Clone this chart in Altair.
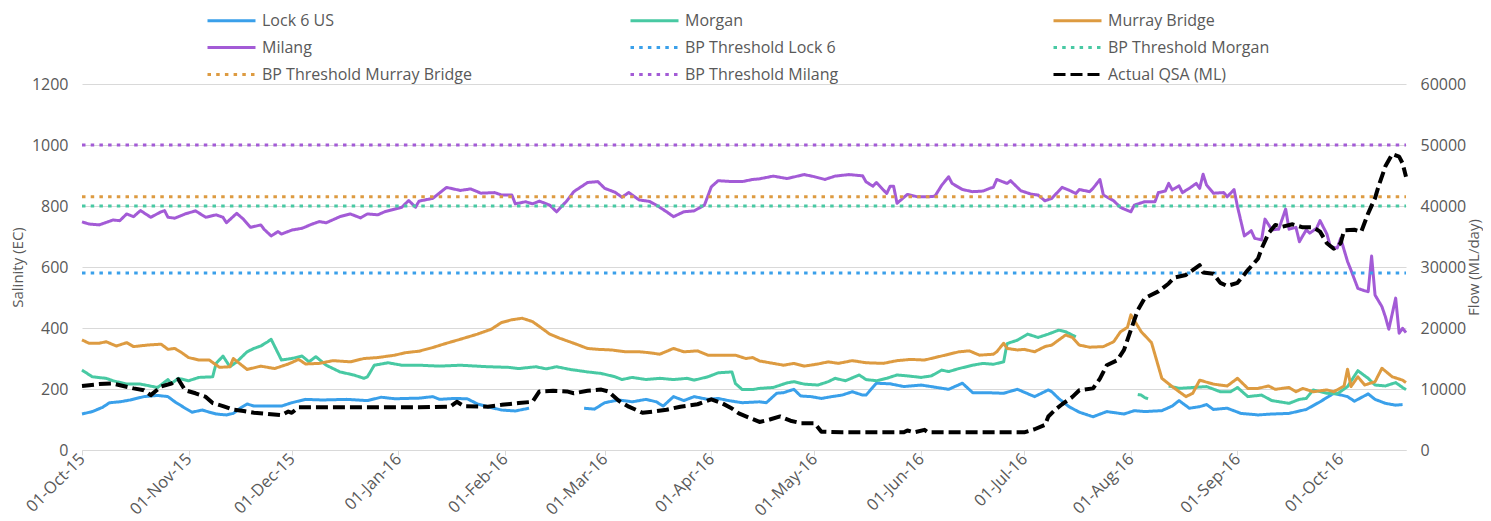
import altair as alt
import pandas as pd

START = "2015-10-01"  # day 0

# ---- data (day offset from 01-Oct-15, value) ----
# None marks a gap in the record
lock6_days = [0, 3, 6, 8, 11, 14, 18, 22, 25, 27, 30, 32, 35, 37, 39, 42, 44, 46, 48, 50, 53, 58, 61, 65, 70, 77,
              83, 87, 91, 94, 98, 102, 104, 108, 112, 115, 118, 122, 126, 130, 138,
              146, 149, 152, 156, 160, 164, 167, 169, 172, 175, 178, 182, 185, 188, 192, 197, 199, 202, 204, 207,
              209, 212, 215, 218, 221, 224, 227, 228, 231, 235, 239, 244, 248, 252, 256, 259, 263, 268, 272, 277,
              281, 282, 284, 287, 290, 294, 298, 303, 306, 309, 314, 317, 319, 322, 325, 327, 329, 333, 337, 342,
              346, 351, 356, 360, 364, 368, 370, 374, 376, 379, 382, 384]
lock6_vals = [118, 126, 140, 155, 158, 164, 175, 179, 175, 158, 137, 124, 131, 124, 118, 115, 120, 137, 151, 144, 144,
              144, 155, 166, 164, 166, 162, 173, 168, 169, 170, 175, 166, 169, 168, 151, 142, 131, 128, 137, None,
              137, 134, 155, 164, 158, 166, 158, 144, 175, 162, 175, 166, 169, 162, 155, 158, 155, 186, 188, 199,
              177, 175, 169, 175, 180, 191, 180, 180, 219, 217, 208, 213, 206, 199, 219, 188, 188, 186, 199, 175,
              197, 191, 169, 142, 124, 109, 126, 118, 129, 126, 129, 144, 162, 137, 142, 149, 133, 137, 120, 115,
              118, 120, 133, 158, 186, 175, 160, 184, 166, 153, 147, 149]

morgan_days = [0, 3, 7, 9, 13, 17, 22, 25, 26, 28, 31, 34, 38, 39, 41, 43, 45, 48, 50, 52, 54, 55, 58, 61, 64, 66,
               68, 71, 75, 79, 82, 83, 85, 89, 93, 98, 104, 110, 118, 124, 127, 132, 135, 138, 142, 147, 151, 155,
               157, 160, 164, 168, 172, 176, 178, 182, 185, 189, 190, 192, 195, 197, 201, 205, 207, 210, 214, 217,
               219, 222, 226, 228, 231, 234, 237, 240, 244, 247, 250, 252, 255, 259, 262, 265, 268, 269, 272, 275,
               278, 281, 284, 286, 289, 298,
               307, 308, 309, 310, 313,
               316, 319, 323, 327, 331, 334, 336, 339, 343, 346, 351, 354, 356, 358, 362, 365, 368, 371, 374, 376,
               379, 382, 384, 385]
morgan_vals = [262, 240, 235, 227, 216, 216, 205, 231, 218, 235, 227, 238, 240, 284, 308, 273, 289, 322, 333, 341,
               355, 363, 295, 300, 308, 289, 306, 278, 256, 246, 235, 240, 278, 286, 278, 278, 275, 278, 273, 271,
               267, 273, 266, 273, 264, 256, 251, 240, 231, 238, 231, 235, 231, 235, 229, 240, 253, 256, 218, 198,
               198, 202, 205, 220, 224, 216, 213, 224, 235, 227, 246, 231, 227, 235, 246, 243, 238, 243, 262, 257,
               267, 278, 284, 281, 289, 349, 360, 380, 369, 380, 393, 388, 371, None,
               182, 180, 172, 168, None,
               210, 202, 205, 208, 191, 191, 205, 175, 180, 162, 153, 166, 169, 197, 186, 184, 208, 260, 235, 213,
               210, 221, 205, 198]

murray_days = [0, 2, 5, 7, 10, 13, 15, 19, 23, 25, 27, 29, 31, 34, 37, 40, 43, 44, 46, 48, 52, 56, 60, 63, 65, 69,
               73, 78, 82, 86, 91, 94, 98, 102, 106, 110, 115, 119, 122, 125, 128, 131, 133, 136, 139, 143, 147,
               150, 154, 158, 162, 165, 168, 172, 175, 179, 182, 186, 190, 193, 195, 197, 201, 204, 207, 210, 214,
               217, 220, 224, 228, 233, 237, 241, 245, 248, 251, 255, 258, 261, 265, 266, 268, 269, 272, 274, 277,
               280, 282, 286, 288, 290, 293, 297, 300, 302, 304, 305, 308, 311, 314, 317, 321, 323, 325, 329, 333,
               336, 339, 342, 345, 347, 351, 353, 355, 358, 362, 364, 367, 368, 369, 371, 373, 376, 378, 381, 384,
               385]
murray_vals = [361, 350, 350, 355, 341, 352, 339, 344, 347, 330, 333, 319, 303, 295, 295, 271, 273, 300, 282, 264,
               275, 267, 282, 297, 282, 284, 293, 289, 300, 303, 311, 319, 324, 336, 350, 363, 380, 396, 418, 427,
               432, 421, 405, 380, 366, 350, 333, 330, 328, 322, 322, 319, 314, 333, 322, 325, 311, 311, 311, 300,
               303, 292, 284, 278, 284, 275, 282, 289, 284, 293, 286, 284, 293, 297, 295, 303, 311, 322, 325, 311,
               314, 322, 350, 333, 328, 330, 322, 339, 344, 377, 369, 344, 337, 339, 355, 388, 402, 443, 388, 352,
               235, 208, 175, 186, 229, 216, 210, 235, 202, 202, 210, 199, 205, 191, 202, 191, 197, 191, 210, 265,
               208, 240, 213, 224, 268, 240, 229, 221]

milang_days = [0, 2, 5, 9, 11, 13, 15, 17, 20, 23, 24, 25, 27, 30, 33, 36, 39, 41, 42, 45, 47, 49, 52, 53, 55, 57,
               58, 61, 64, 67, 69, 71, 75, 78, 81, 83, 86, 88, 90, 93, 95, 97, 98, 102, 106, 110, 113, 116, 120,
               122, 125, 126, 129, 131, 133, 136, 138, 141, 143, 147, 150, 152, 155, 157, 159, 162, 165, 167, 170,
               172, 175, 178, 181, 183, 185, 189, 192, 195, 197, 201, 205, 210, 213, 216, 219, 223, 227, 228, 230,
               231, 234, 235, 236, 237, 240, 243, 246, 248, 250, 252, 253, 256, 259, 262, 264, 265, 266, 269, 270,
               273, 276, 278, 280, 282, 285, 287, 289, 290, 293, 294, 296, 297, 300, 302, 305, 306, 309, 312, 313,
               315, 316, 317, 319, 320, 322, 324, 325, 326, 327, 329, 332, 333, 335, 336, 338, 340, 341, 343, 344,
               346, 348, 350, 351, 353, 354, 356, 357, 359, 360, 362, 363, 365, 366, 368, 369, 371, 373, 374, 375,
               376, 378, 379, 380, 382, 383, 384, 385]
milang_vals = [748, 741, 738, 754, 752, 774, 765, 785, 763, 781, 785, 763, 760, 774, 784, 763, 771, 763, 745, 776,
               756, 730, 738, 723, 702, 716, 708, 721, 727, 741, 749, 745, 765, 774, 761, 774, 771, 781, 787, 796,
               818, 796, 816, 825, 861, 851, 856, 842, 844, 836, 836, 807, 814, 807, 816, 803, 781, 817, 847, 877,
               880, 858, 845, 829, 844, 820, 815, 803, 781, 765, 781, 784, 803, 863, 883, 880, 880, 887, 889, 898,
               890, 903, 896, 887, 898, 903, 899, 879, 865, 877, 841, 865, 865, 809, 838, 830, 830, 832, 868, 896,
               874, 854, 847, 849, 858, 861, 887, 874, 883, 850, 839, 836, 817, 825, 861, 852, 841, 854, 847, 858,
               887, 836, 817, 795, 781, 803, 814, 814, 844, 849, 874, 853, 866, 844, 858, 874, 858, 904, 869, 842,
               844, 830, 854, 798, 702, 719, 694, 689, 757, 722, 724, 790, 724, 730, 683, 722, 711, 727, 752, 708,
               667, 662, 694, 618, 590, 530, 522, 519, 636, 508, 470, 437, 396, 498, 383, 399, 385]

qsa_days = [0, 5, 9, 12, 15, 18, 20, 23, 26, 28, 30, 33, 36, 38, 41, 44, 47, 50, 54, 58, 60, 61, 63, 67, 98, 107,
            109, 111, 118, 122, 127, 131, 133, 137, 141, 143, 147, 151, 153, 156, 159, 163, 166, 170, 174, 179,
            183, 186, 189, 191, 194, 197, 200, 203, 206, 209, 213, 215, 221, 239, 240, 242, 245, 246, 274, 277,
            280, 281, 283, 285, 288, 290, 294, 296, 298, 301, 303, 305, 307, 309, 313, 316, 317, 318, 321, 325,
            326, 329, 331, 333, 336, 339, 342, 343, 345, 347, 349, 352, 355, 358, 360, 362, 364, 366, 367, 370,
            372, 374, 376, 377, 379, 381, 383, 384, 385]
qsa_vals = [10500, 10800, 10900, 10500, 10100, 9800, 9000, 10400, 10900, 11600, 9800, 9300, 8700, 7700, 7200, 6600,
            6400, 6100, 5900, 5700, 6300, 6100, 7000, 7000, 7000, 7100, 7900, 7200, 7100, 7400, 7700, 7900, 9600,
            9700, 9600, 9300, 9700, 9900, 9600, 8100, 7100, 6100, 6300, 6600, 7100, 7500, 8300, 7700, 6800, 6000,
            5300, 4600, 5000, 5500, 4800, 4400, 4400, 3000, 2900, 2900, 3200, 2900, 3300, 2900, 2900, 3400, 4100,
            5500, 6600, 7500, 8700, 9800, 10100, 11700, 13900, 14700, 16400, 19700, 22900, 24900, 26000, 27300,
            27900, 28300, 28700, 30300, 29100, 28900, 27400, 26900, 27400, 29500, 31400, 33000, 35500, 36900,
            36600, 37000, 36500, 36500, 35800, 33900, 33000, 33900, 36000, 36100, 35800, 38800, 41300, 43200,
            46500, 48500, 48100, 47000, 44800]

threshold_names = ["BP Threshold Lock 6", "BP Threshold Morgan", "BP Threshold Murray Bridge", "BP Threshold Milang"]
threshold_vals = [580, 800, 830, 1000]
threshold_days = [0, 385]

series_names = ["Lock 6 US", "Morgan", "Murray Bridge", "Milang",
                "BP Threshold Lock 6", "BP Threshold Morgan", "BP Threshold Murray Bridge",
                "BP Threshold Milang", "Actual QSA (ML)"]
series_colors = ["#3aa0ea", "#48c9a3", "#dd9b41", "#a35bd6",
                 "#3aa0ea", "#48c9a3", "#dd9b41", "#a35bd6", "#000000"]
DOT = [3.5, 5.2]
series_dash = [[1, 0], [1, 0], [1, 0], [1, 0], DOT, DOT, DOT, DOT, [12, 5]]
series_width = [3, 3, 3, 3, 3.5, 3.5, 3.5, 3.5, 4]


def build(name, days, vals):
    rows, seg = [], 0
    for d, v in zip(days, vals):
        if v is None:
            seg += 1
            continue
        rows.append({"date": pd.Timestamp(START) + pd.Timedelta(days=d), "value": v, "series": name, "seg": seg})
    return rows


sal_rows = []
sal_rows += build("Lock 6 US", lock6_days, lock6_vals)
sal_rows += build("Morgan", morgan_days, morgan_vals)
sal_rows += build("Murray Bridge", murray_days, murray_vals)
sal_rows += build("Milang", milang_days, milang_vals)
for n, v in zip(threshold_names, threshold_vals):
    sal_rows += build(n, threshold_days, [v] * len(threshold_days))
sal_df = pd.DataFrame(sal_rows)
qsa_df = pd.DataFrame(build("Actual QSA (ML)", qsa_days, qsa_vals))

FONT = "Open Sans"
GREY = "#595959"
GRID = "#d9d9d9"

legend = alt.Legend(
    title=None, orient="none", legendX=136, legendY=-77, columns=3, direction="horizontal", gridAlign="all",
    columnPadding=151, rowPadding=5, symbolType="M-2,0H2", symbolSize=576, symbolStrokeWidth=3.5,
    labelFontSize=16, labelFont=FONT, labelColor=GREY, labelOffset=17, labelLimit=400, padding=0,
)
color_scale = alt.Scale(domain=series_names, range=series_colors)
dash_scale = alt.Scale(domain=series_names, range=series_dash)

x_enc = alt.X(
    "date:T",
    scale=alt.Scale(domain=[alt.DateTime(year=2015, month=10, date=1), alt.DateTime(year=2016, month=10, date=20)]),
    axis=alt.Axis(
        title=None, format="%d-%b-%y",
        values=[alt.DateTime(year=2015 + (m + 9) // 12, month=(m + 9) % 12 + 1, date=1) for m in range(13)],
        labelAngle=-45, labelAlign="right", labelBaseline="middle", labelPadding=1,
        labelFontSize=16.5, labelFont=FONT, labelColor=GREY,
        domainColor=GRID, tickColor=GRID, tickSize=5, grid=False,
    ),
)

salinity = alt.Chart(sal_df).mark_line(strokeCap="butt", strokeJoin="round").encode(
    x=x_enc,
    y=alt.Y("value:Q", scale=alt.Scale(domain=[0, 1200]),
            axis=alt.Axis(title="Salinity (EC)", values=list(range(0, 1201, 200)), format="d", grid=True,
                          gridColor=GRID, domain=False, ticks=False, labelPadding=14, labelFontSize=16,
                          labelFont=FONT, labelColor=GREY, titleFont=FONT, titleFontSize=15,
                          titleFontWeight="normal", titleColor=GREY, titlePadding=6)),
    color=alt.Color("series:N", scale=color_scale, legend=legend),
    strokeDash=alt.StrokeDash("series:N", scale=dash_scale, legend=legend),
    strokeWidth=alt.StrokeWidth("series:N", scale=alt.Scale(domain=series_names, range=series_width), legend=None),
    detail="seg:N",
)

qsa = alt.Chart(qsa_df).mark_line(strokeCap="butt", strokeJoin="round", strokeWidth=4).encode(
    x=x_enc,
    y=alt.Y("value:Q", scale=alt.Scale(domain=[0, 60000]),
            axis=alt.Axis(title="Flow (ML/day)", orient="right", values=list(range(0, 60001, 10000)),
                          format="d", grid=False, domain=False, ticks=False, labelPadding=14, labelFontSize=16,
                          labelFont=FONT, labelColor=GREY, titleFont=FONT, titleFontSize=15,
                          titleFontWeight="normal", titleColor=GREY, titleAngle=270, titleBaseline="top",
                          titlePadding=1)),
    color=alt.Color("series:N", scale=color_scale, legend=legend),
    strokeDash=alt.StrokeDash("series:N", scale=dash_scale, legend=legend),
)

chart = alt.layer(salinity, qsa).resolve_scale(y="independent").properties(
    width=1324, height=366,
    autosize=alt.AutoSizeParams(type="none"),
    padding={"left": 74, "top": 76, "right": 77, "bottom": 71},
    background="white",
).configure_view(stroke=None)

chart.save("out.html", embed_options={"renderer": "svg", "actions": False})
